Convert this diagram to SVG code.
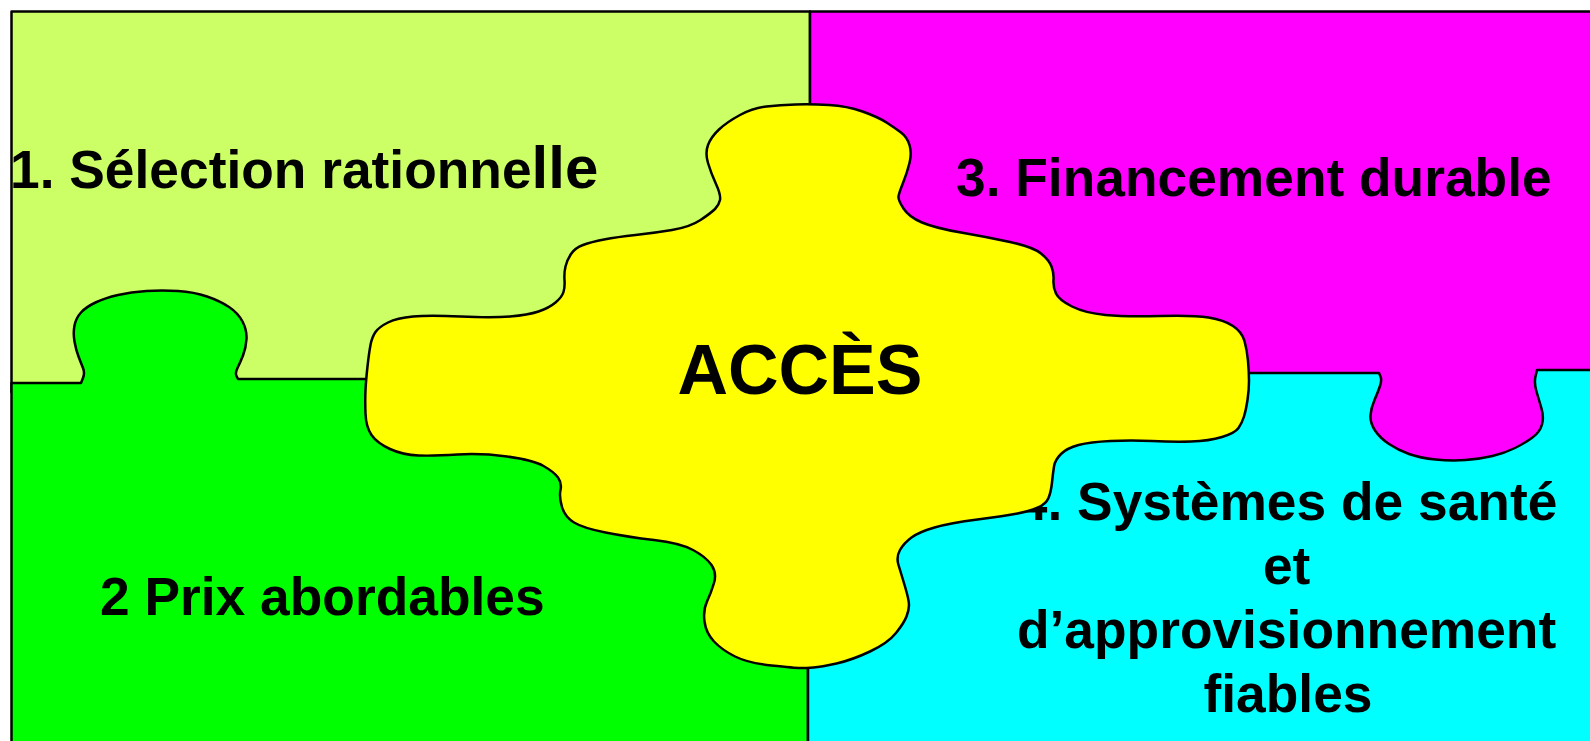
<svg xmlns="http://www.w3.org/2000/svg" width="1590" height="741" viewBox="0 0 1590 741">
  <style>
    .piece { stroke: #000; stroke-width: 2.5; stroke-linejoin: round; }
    .label { font-family: "Liberation Sans", Arial, sans-serif; font-weight: bold; font-size: 53.33px; fill: #000; }
    .title { font-family: "Liberation Sans", Arial, sans-serif; font-weight: bold; font-size: 70px; fill: #000; }
  </style>
  <rect x="0" y="0" width="1590" height="741" fill="#fff"/>

  <!-- 1: top-left piece -->
  <g id="piece-selection">
    <path class="piece" fill="#CCFF66" d="M11.5,11.5 H810 V392 H11.5 Z"/>
    <text class="label" x="10" y="188">1. Sélection rationne<tspan font-size="60">lle</tspan></text>
  </g>

  <!-- 2: bottom-left piece with its tab -->
  <g id="piece-prix">
    <path class="piece" fill="#00FF00" d="M11.5,383 H81 L83,378 Q85,373 83,368 Q81,363 78.5,356.5 Q76,350 74.5,341.5 Q73,333 74.5,325.5 Q76,318 81,312.5 Q86,307 95.5,302.5 Q105,298 118,295 Q131,292 146.5,291 Q162,290 178,291 Q194,292 207,296.5 Q220,301 229,307 Q238,313 242.5,321.5 Q247,330 246.5,339 Q246,348 243,355.5 Q240,363 237.5,368 Q235,373 236.5,376 L238,379 H366 L480,400 L700,500 L790,640 L808,655 V745 H11.5 Z"/>
    <text class="label" x="100" y="615">2 Prix abordables</text>
  </g>

  <!-- 4: bottom-right piece -->
  <g id="piece-systemes">
    <path class="piece" fill="#00FFFF" d="M808,745 V660 L880,600 L900,520 L1040,470 L1150,360 H1600 V745 Z"/>
    <text class="label" text-anchor="middle">
      <tspan x="1295" y="520">4. Systèmes de santé</tspan>
      <tspan x="1294" y="584">et</tspan>
      <tspan x="1294" y="648">d’approvisionnement</tspan>
      <tspan x="1288" y="712">fiables</tspan>
    </text>
  </g>

  <!-- 3: top-right piece with its tab -->
  <g id="piece-financement">
    <path class="piece" fill="#FF00FF" d="M810,11.5 H1600 V370 H1537 L1535.5,376.5 Q1534,383 1536.5,391.5 Q1539,400 1541.5,408.5 Q1544,417 1542,424.5 Q1540,432 1532.5,437.5 Q1525,443 1515,448 Q1505,453 1492.5,456 Q1480,459 1465.5,460 Q1451,461 1435.5,459.5 Q1420,458 1409,454 Q1398,450 1389,444 Q1380,438 1375,430.5 Q1370,423 1370.5,415.5 Q1371,408 1374.5,400 Q1378,392 1380,386 Q1382,380 1380.5,376.5 L1379,373 H1150 L1000,300 L810,250 Z"/>
    <text class="label" x="956" y="196">3. Financement durable</text>
  </g>

  <!-- centre piece -->
  <g id="piece-acces">
    <path class="piece" fill="#FFFF00" d="M740,115 Q753,108 766.5,106.5 Q780,105 795.5,104.5 Q811,104 829,105 Q847,106 862.5,111.5 Q878,117 886.5,122.5 Q895,128 901,132.5 Q907,137 909.5,145 Q912,153 909.5,163 Q907,173 903,183 Q899,193 898.5,196.5 Q898,200 903.5,208.5 Q909,217 922,222.5 Q935,228 961,232.5 Q987,237 1010,242 Q1033,247 1041,253.5 Q1049,260 1051.5,266.5 Q1054,273 1053.5,280 Q1053,287 1056,293.5 Q1059,300 1072,306.5 Q1085,313 1105.5,315 Q1126,317 1159.5,316 Q1193,315 1208.5,317.5 Q1224,320 1233,326 Q1242,332 1244.5,341 Q1247,350 1248,361 Q1249,372 1249,381 Q1249,390 1247.5,400 Q1246,410 1244,416.5 Q1242,423 1238.5,428 Q1235,433 1222,437 Q1209,441 1191,441.5 Q1173,442 1152,441 Q1131,440 1110.5,441 Q1090,442 1078.5,445 Q1067,448 1061,454 Q1055,460 1054,466.5 Q1053,473 1052,482.5 Q1051,492 1048.5,498 Q1046,504 1038,507.5 Q1030,511 1017.5,513.5 Q1005,516 977.5,519.5 Q950,523 934.5,527.5 Q919,532 911.5,537.5 Q904,543 900,550 Q896,557 898.5,565 Q901,573 905,586.5 Q909,600 909,605 Q909,610 906.5,616.5 Q904,623 896,633 Q888,643 870,651.5 Q852,660 836.5,663.5 Q821,667 813.5,667.5 Q806,668 800.5,668 Q795,668 771.5,665.5 Q748,663 735,656.5 Q722,650 714,641.5 Q706,633 704.5,621.5 Q703,610 707,601.5 Q711,593 714,583 Q717,573 711.5,565 Q706,557 693,550 Q680,543 654,540 Q628,537 605.5,532.5 Q583,528 574,522.5 Q565,517 562,507 Q559,497 560.5,490 Q562,483 558,477.5 Q554,472 543.5,466 Q533,460 507,456.5 Q481,453 457.5,454.5 Q434,456 418.5,455.5 Q403,455 390,449 Q377,443 371.5,435 Q366,427 365.5,413.5 Q365,400 365.5,390 Q366,380 367.5,366.5 Q369,353 370.5,345 Q372,337 375.5,332 Q379,327 388,322.5 Q397,318 413,316.5 Q429,315 460.5,316.5 Q492,318 510,316.5 Q528,315 538.5,311.5 Q549,308 555.5,302.5 Q562,297 563.5,292 Q565,287 564.5,280 Q564,273 565.5,266.5 Q567,260 571,254 Q575,248 583,245 Q591,242 604,239.5 Q617,237 635.5,235 Q654,233 672,230 Q690,227 700.5,220 Q711,213 715,209 Q719,205 720,200 Q721,195 716,184 Q711,173 708,163 Q705,153 708,145 Q711,137 719,129.5 Q727,122 740,115 Z"/>
    <text class="title" x="800" y="394" text-anchor="middle">ACCÈS</text>
  </g>
</svg>
